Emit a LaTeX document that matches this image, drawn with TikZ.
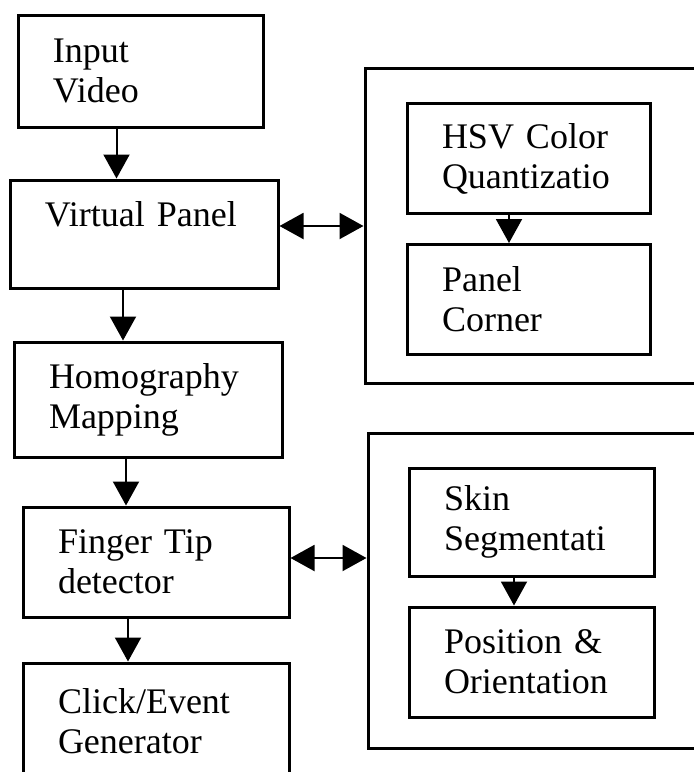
\documentclass[tikz,border=0pt]{standalone}
\usepackage{fontspec}
\setmainfont{Liberation Serif}
\usepackage{tikz}
\usetikzlibrary{positioning}
\usetikzlibrary{arrows.meta}
\usetikzlibrary{calc}

\tikzset{
  blk/.style={draw, line width=1.5pt, align=left, inner xsep=17.5pt, inner ysep=0pt,
    minimum height=55pt, font=\fontsize{18pt}{20pt}\selectfont},
  grp/.style={draw, line width=1.5pt, minimum width=167.5pt, minimum height=157.5pt},
  arr/.style={-{Triangle[length=12pt,width=13pt]}, line width=1pt},
  biarr/.style={{Triangle[length=12pt,width=13pt]}-{Triangle[length=12pt,width=13pt]}, line width=1pt}
}

\begin{document}
\begin{tikzpicture}[x=0.5pt,y=-0.5pt]
\useasboundingbox (0,0) rectangle (693,772);
\node[blk, text width=87.5pt, minimum height=56pt] (input) at (140.5,71) {Input\\Video};
\node[blk, text width=99pt, minimum height=54pt] (virtual) at (144,234) {Virtual Panel\\\mbox{}};
\node[blk, text width=99pt, minimum height=57.5pt] (homog) at (148,399.5) {Homography\\Mapping};
\node[blk, text width=98pt] (finger) at (156,562) {Finger Tip\\detector};
\node[blk, text width=98pt, minimum height=58.5pt] (click) at (156,721.5) {Click/Event\\Generator};
\node[grp] (grp1) at (532.5,225.5) {};
\node[blk, text width=86.5pt] (hsv) at (528.5,158.5) {HSV Color\\Quantizatio};
\node[blk, text width=86.5pt] (corner) at (528.5,299.5) {Panel\\Corner};
\node[grp, minimum width=166pt] (grp2) at (534,590.5) {};
\node[blk, text width=87.5pt, minimum height=54pt] (skin) at (531.5,522) {Skin\\Segmentati};
\node[blk, text width=87.5pt] (position) at (531.5,662) {Position \&\\Orientation};
\draw[arr] ([xshift=-12pt]input.south) -- ([xshift=-12pt]input.south |- virtual.north);
\draw[arr] ([xshift=-10.5pt]virtual.south) -- ([xshift=-10.5pt]virtual.south |- homog.north);
\draw[arr] ([xshift=-11pt]homog.south) -- ([xshift=-11pt]homog.south |- finger.north);
\draw[arr] ([xshift=-14pt]finger.south) -- ([xshift=-14pt]finger.south |- click.north);
\draw[arr] ([xshift=-9.75pt]hsv.south) -- ([xshift=-9.75pt]hsv.south |- corner.north);
\draw[arr] ([xshift=-8.75pt]skin.south) -- ([xshift=-8.75pt]skin.south |- position.north);
\draw[biarr] ([yshift=4pt]virtual.east) -- ([yshift=4pt]virtual.east -| grp1.west);
\draw[biarr] ([yshift=2pt]finger.east) -- ([yshift=2pt]finger.east -| grp2.west);
\end{tikzpicture}
\end{document}
